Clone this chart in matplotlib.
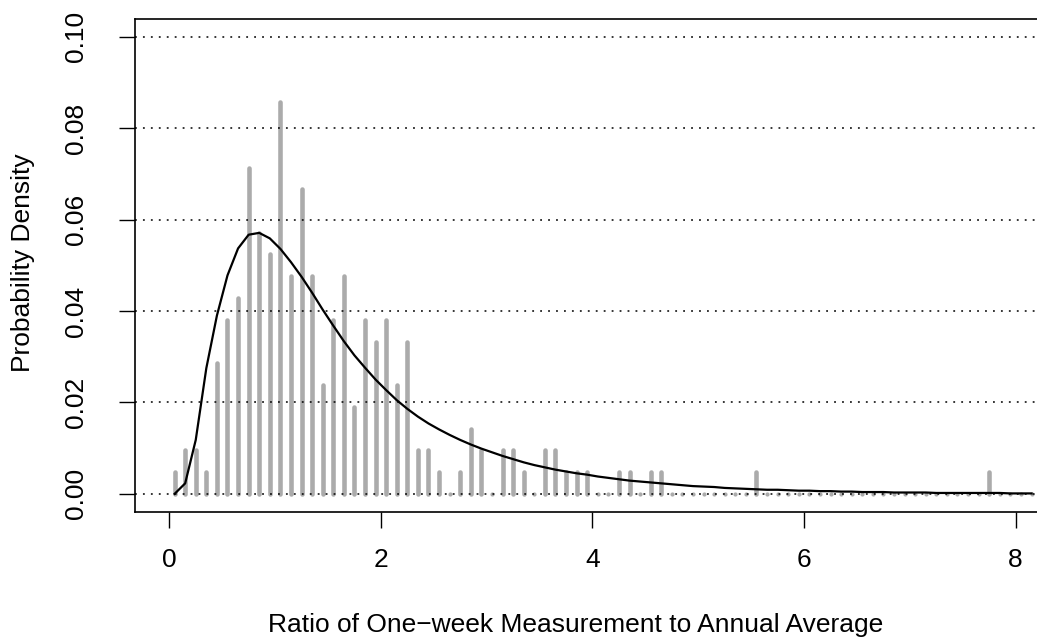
import matplotlib
matplotlib.use("Agg")
import matplotlib.pyplot as plt
import numpy as np

plt.rcParams['font.family'] = ['Liberation Sans', 'DejaVu Sans']

# Histogram-like spikes (bin midpoints) and observed density
bar_x = [0.05, 0.15, 0.25, 0.35, 0.45, 0.55, 0.65, 0.75, 0.85, 0.95,
         1.05, 1.15, 1.25, 1.35, 1.45, 1.55, 1.65, 1.75, 1.85, 1.95,
         2.05, 2.15, 2.25, 2.35, 2.45, 2.55, 2.65, 2.75, 2.85, 2.95,
         3.05, 3.15, 3.25, 3.35, 3.45, 3.55, 3.65, 3.75, 3.85, 3.95,
         4.05, 4.15, 4.25, 4.35, 4.45, 4.55, 4.65, 4.75, 4.85, 4.95,
         5.05, 5.15, 5.25, 5.35, 5.45, 5.55, 5.65, 5.75, 5.85, 5.95,
         6.05, 6.15, 6.25, 6.35, 6.45, 6.55, 6.65, 6.75, 6.85, 6.95,
         7.05, 7.15, 7.25, 7.35, 7.45, 7.55, 7.65, 7.75, 7.85, 7.95,
         8.05, 8.15]
bar_density = [0.0048, 0.0095, 0.0095, 0.0048, 0.0286, 0.0381, 0.0429, 0.0714, 0.0571, 0.0524,
               0.0857, 0.0476, 0.0667, 0.0476, 0.0238, 0.0381, 0.0476, 0.0190, 0.0381, 0.0333,
               0.0381, 0.0238, 0.0333, 0.0095, 0.0095, 0.0048, 0.0, 0.0048, 0.0143, 0.0095,
               0.0, 0.0095, 0.0095, 0.0048, 0.0, 0.0095, 0.0095, 0.0048, 0.0048, 0.0048,
               0.0, 0.0, 0.0048, 0.0048, 0.0, 0.0048, 0.0048, 0.0, 0.0, 0.0,
               0.0, 0.0, 0.0, 0.0, 0.0, 0.0048, 0.0, 0.0, 0.0, 0.0,
               0.0, 0.0, 0.0, 0.0, 0.0, 0.0, 0.0, 0.0, 0.0, 0.0,
               0.0, 0.0, 0.0, 0.0, 0.0, 0.0, 0.0, 0.0048, 0.0, 0.0,
               0.0, 0.0]

# Fitted density curve
curve_x = bar_x
curve_y = [0.0, 0.0023, 0.0118, 0.0275, 0.0390, 0.0478, 0.0537, 0.0567, 0.0571, 0.0559,
           0.0536, 0.0507, 0.0475, 0.0440, 0.0403, 0.0368, 0.0334, 0.0303, 0.0276, 0.0250,
           0.0227, 0.0205, 0.0186, 0.0169, 0.0154, 0.0141, 0.0129, 0.0118, 0.0108, 0.0099,
           0.0091, 0.0083, 0.0076, 0.0069, 0.0063, 0.0058, 0.0053, 0.0049, 0.0045, 0.0042,
           0.0038, 0.0035, 0.0032, 0.0029, 0.0027, 0.0025, 0.0023, 0.0021, 0.0019, 0.0017,
           0.0016, 0.0015, 0.0013, 0.0012, 0.0011, 0.0010, 0.0009, 0.0009, 0.0008, 0.0007,
           0.0007, 0.0006, 0.0006, 0.0005, 0.0005, 0.0004, 0.0004, 0.0004, 0.0003, 0.0003,
           0.0003, 0.0003, 0.0002, 0.0002, 0.0002, 0.0002, 0.0002, 0.0002, 0.0002, 0.0001,
           0.0001, 0.0001]

grid_levels = [0.0, 0.02, 0.04, 0.06, 0.08, 0.10]
x_ticks = [0, 2, 4, 6, 8]
y_ticks = [0.0, 0.02, 0.04, 0.06, 0.08, 0.10]
y_ticklabels = ["0.00", "0.02", "0.04", "0.06", "0.08", "0.10"]

W, H = 1037, 639
fig = plt.figure(figsize=(W / 100, H / 100), dpi=100)
left_px, right_px, top_px, bottom_px = 134.7, 1040.0, 18.5, 511.7
ax = fig.add_axes([left_px / W, 1 - bottom_px / H,
                   (right_px - left_px) / W, (bottom_px - top_px) / H])

ax.set_xlim(-0.327, 8.23)
ax.set_ylim(-0.0039, 0.1040)

gray = '#ABABAB'
bx = np.array(bar_x)
bd = np.array(bar_density)
nz = bd > 0
ax.vlines(bx[nz], 0, bd[nz], colors=gray, linewidth=3.3, capstyle='round', zorder=2)
ax.scatter(bx[~nz], bd[~nz], s=9, color=gray, linewidths=0, zorder=2)

for g in grid_levels:
    ax.axhline(g, color='black', linewidth=1.1, linestyle=(0, (1.2, 4.0)), zorder=2.5)

ax.plot(curve_x, curve_y, color='black', linewidth=1.6, zorder=3)

ax.set_xticks(x_ticks)
ax.set_xticklabels([str(t) for t in x_ticks])
ax.set_yticks(y_ticks)
ax.set_yticklabels(y_ticklabels, rotation=90, va='center')
ax.tick_params(axis='both', direction='out', length=11.8, width=1.0,
               labelsize=19, colors='black')
ax.tick_params(axis='x', pad=14)
ax.tick_params(axis='y', pad=22)

for s in ax.spines.values():
    s.set_linewidth(1.2)

fig.text(576 / W, 1 - 625 / H, "Ratio of One\u2212week Measurement to Annual Average",
         ha='center', va='center', fontsize=19)
fig.text(23 / W, 1 - 263 / H, "Probability Density", ha='center', va='center',
         rotation=90, fontsize=19)

fig.savefig("out.png", dpi=100)
